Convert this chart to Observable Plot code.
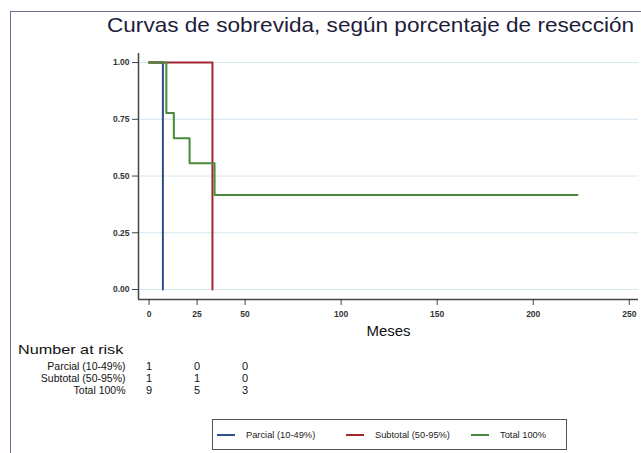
<!DOCTYPE html>
<html>
<head>
<meta charset="utf-8">
<script src="https://cdn.jsdelivr.net/npm/d3@7"></script>
<script src="https://cdn.jsdelivr.net/npm/@observablehq/plot@0.6"></script>
<style>
  html, body { margin: 0; padding: 0; background: #fff; }
  #fig { position: relative; width: 641px; height: 453px; overflow: hidden; background: #fff;
         font-family: "Liberation Sans", Arial, sans-serif; }
  #frame { position: absolute; left: 10px; top: 11px; width: 700px; height: 500px;
           border-left: 1.5px solid #6e6a8a; border-top: 1.5px solid #6e6a8a; }
  #title { position: absolute; left: 107px; top: 13px; font-size: 21px; color: #1d1d3a; white-space: nowrap;
           transform: scaleX(1.075); transform-origin: left top; }
  #plot, #risk { position: absolute; left: 0; }
  #plot { top: 0; }
  #risk { top: 340px; }
  #riskhead { position: absolute; left: 18px; top: 342px; font-size: 13.5px; color: #111; white-space: nowrap;
              transform: scaleX(1.2); transform-origin: left top; }
  #legend { position: absolute; left: 212px; top: 419px; width: 355px; height: 31px;
            border: 1px solid #555; box-sizing: border-box; }
  .item { position: absolute; top: 0; height: 29px; display: flex; align-items: center; font-size: 9.3px; color: #222; white-space: nowrap; }
  .swatch { display: inline-block; width: 18px; height: 2px; margin-right: 11px; }
</style>
</head>
<body>
<div id="fig">
  <div id="frame"></div>
  <div id="title"></div>
  <div id="plot"></div>
  <div id="riskhead"></div>
  <div id="risk"></div>
  <div id="legend"></div>
</div>
<script>
// ---- data ----
const title = "Curvas de sobrevida, según porcentaje de resección";
const xLabel = "Meses";
const riskHeader = "Number at risk";
const groups = ["Parcial (10-49%)", "Subtotal (50-95%)", "Total 100%"];
const colors = ["#2f4f8c", "#a3262f", "#4a8a3a"];

const parcialT = [0, 7.2];
const parcialS = [1, 0];
const subtotalT = [0, 33];
const subtotalS = [1, 0];
const totalT = [0, 9, 12.9, 21.1, 34.1, 223];
const totalS = [1, 0.778, 0.667, 0.556, 0.417, 0.417];

const xTicks = [0, 25, 50, 100, 150, 200, 250];
const yTicks = [0, 0.25, 0.5, 0.75, 1];
const xDomain = [-5.5, 254.8];
const yDomain = [-0.044, 1.04];

const riskTimes = [0, 25, 50];
const riskParcial = [1, 0, 0];
const riskSubtotal = [1, 1, 0];
const riskTotal = [9, 5, 3];

// ---- build tables ----
const curves = [
  [parcialT, parcialS], [subtotalT, subtotalS], [totalT, totalS]
].flatMap(([T, S], i) => T.map((t, j) => ({group: groups[i], t, s: S[j]})));

const riskRows = [riskParcial, riskSubtotal, riskTotal]
  .flatMap((vals, i) => vals.map((n, j) => ({group: groups[i], t: riskTimes[j], n})));

const font = "'Liberation Sans', Arial, sans-serif";
const W = 641, mL = 138, mR = 3;

document.getElementById("title").textContent = title;
document.getElementById("riskhead").textContent = riskHeader;

const plot = Plot.plot({
  width: W, height: 345,
  marginLeft: mL, marginRight: mR, marginTop: 53, marginBottom: 46,
  style: {fontFamily: font, fontSize: "8.5px", fontWeight: "bold", color: "#222", background: "transparent", overflow: "visible"},
  x: {domain: xDomain},
  y: {domain: yDomain},
  color: {domain: groups, range: colors},
  marks: [
    Plot.gridY(yTicks, {stroke: "#d6e7ef", strokeOpacity: 1, strokeWidth: 1}),
    Plot.ruleY([yDomain[0]], {stroke: "#444", strokeWidth: 1.5}),
    Plot.ruleX([xDomain[0]], {stroke: "#444", strokeWidth: 1.5}),
    Plot.axisY(yTicks, {tickFormat: d3.format(".2f"), tickSize: 6, tickPadding: 3, label: null, stroke: "#444", fill: "#333"}),
    Plot.axisX(xTicks, {tickSize: 6, tickPadding: 5, label: null, stroke: "#444", fill: "#333"}),
    Plot.line(curves, {x: "t", y: "s", z: "group", stroke: "group", curve: "step-after", strokeWidth: 2}),
    Plot.text([xLabel], {frameAnchor: "bottom", dy: 36, fontSize: 15, fontWeight: "normal", fill: "#111"})
  ]
});
document.getElementById("plot").appendChild(plot);

const risk = Plot.plot({
  width: W, height: 58,
  marginLeft: mL, marginRight: mR, marginTop: 0, marginBottom: 0,
  style: {fontFamily: font, fontSize: "11px", color: "#111", background: "transparent", overflow: "visible"},
  x: {domain: xDomain, axis: null},
  y: {type: "point", domain: groups, range: [26, 50], padding: 0, axis: null},
  marks: [
    Plot.text(groups, {y: d => d, frameAnchor: "left", dx: -13, textAnchor: "end", fontSize: 10.5, fill: "#111"}),
    Plot.text(riskRows, {x: "t", y: "group", text: "n", fontSize: 11, fill: "#111"})
  ]
});
document.getElementById("risk").appendChild(risk);

// legend
const legend = document.getElementById("legend");
const itemLeft = [4, 133, 258];
groups.forEach((g, i) => {
  const it = document.createElement("div");
  it.className = "item";
  it.style.left = itemLeft[i] + "px";
  const sw = document.createElement("span");
  sw.className = "swatch";
  sw.style.background = colors[i];
  it.appendChild(sw);
  it.appendChild(document.createTextNode(g));
  legend.appendChild(it);
});
</script>
</body>
</html>
